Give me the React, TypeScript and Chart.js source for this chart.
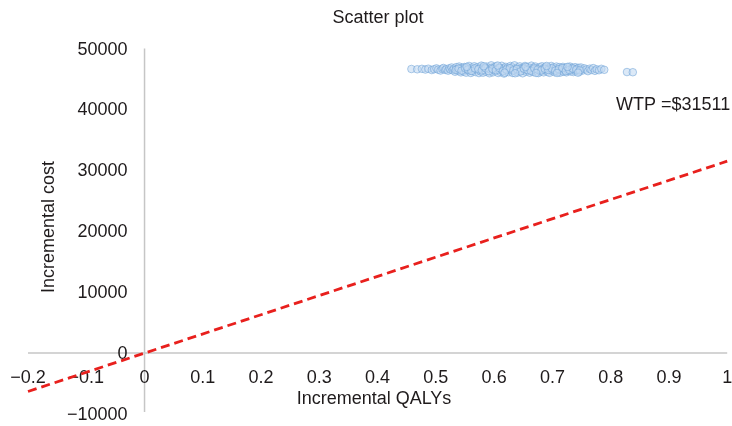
import React, { useEffect, useRef } from "react";
import { Chart, registerables } from "chart.js";

Chart.register(...registerables);

// ---- Data ----
const incQaly: number[] = [
  0.458, 0.468, 0.476, 0.482, 0.487, 0.493, 0.497, 0.501, 0.504, 0.508, 0.511, 0.513, 0.516, 0.518, 0.521, 0.523, 0.525, 0.527, 0.529, 0.531,
  0.533, 0.535, 0.536, 0.538, 0.540, 0.541, 0.543, 0.545, 0.546, 0.548, 0.549, 0.551, 0.552, 0.554, 0.556, 0.557, 0.559, 0.560, 0.562, 0.563,
  0.565, 0.566, 0.568, 0.569, 0.571, 0.572, 0.574, 0.575, 0.577, 0.578, 0.580, 0.581, 0.583, 0.584, 0.586, 0.587, 0.589, 0.590, 0.592, 0.593,
  0.595, 0.596, 0.598, 0.599, 0.601, 0.602, 0.604, 0.605, 0.607, 0.608, 0.610, 0.611, 0.613, 0.614, 0.616, 0.617, 0.619, 0.620, 0.622, 0.623,
  0.625, 0.626, 0.628, 0.629, 0.631, 0.632, 0.634, 0.635, 0.637, 0.638, 0.640, 0.641, 0.643, 0.644, 0.646, 0.647, 0.649, 0.650, 0.652, 0.653,
  0.655, 0.656, 0.658, 0.659, 0.661, 0.662, 0.664, 0.665, 0.667, 0.668, 0.670, 0.671, 0.673, 0.674, 0.676, 0.677, 0.679, 0.680, 0.682, 0.683,
  0.685, 0.686, 0.688, 0.689, 0.691, 0.692, 0.694, 0.695, 0.697, 0.698, 0.700, 0.701, 0.703, 0.704, 0.706, 0.707, 0.709, 0.710, 0.712, 0.713,
  0.715, 0.716, 0.718, 0.719, 0.721, 0.722, 0.724, 0.725, 0.727, 0.728, 0.730, 0.731, 0.733, 0.734, 0.736, 0.737, 0.739, 0.740, 0.742, 0.743,
  0.745, 0.746, 0.748, 0.749,
  0.752, 0.755, 0.758, 0.761, 0.764, 0.767, 0.770, 0.773, 0.776, 0.780, 0.784, 0.789,
  0.828, 0.838,
  0.534, 0.539, 0.544, 0.550, 0.555, 0.561, 0.567, 0.573, 0.579, 0.585, 0.591, 0.597, 0.603, 0.609, 0.615, 0.621, 0.627, 0.633, 0.639, 0.645,
  0.651, 0.657, 0.663, 0.669, 0.675, 0.681, 0.687, 0.693, 0.699, 0.705, 0.711, 0.717, 0.723, 0.729, 0.735, 0.741, 0.747,
  0.553, 0.582, 0.606, 0.618, 0.636, 0.654, 0.672, 0.690, 0.708, 0.726, 0.744,
];

const incCost: number[] = [
  46650, 46600, 46680, 46560, 46700, 46480, 46620, 46750, 46540, 46400, 46680, 46820, 46500, 46620, 46380, 46760, 46560, 46900, 46450, 46680,
  46200, 46950, 46600, 46350, 47050, 46700, 46100, 46850, 46450, 46250, 46980, 46620, 46050, 46780, 46380, 47150, 46520, 46000, 46880, 46300,
  46700, 47100, 46150, 46580, 46950, 46420, 45980, 46800, 46250, 47200, 46650, 46050, 46900, 46480, 46200, 47050, 46750, 46350, 45950, 46600,
  47250, 46850, 46100, 46500, 46950, 46300, 47100, 46700, 46000, 46550, 46880, 46180, 47180, 46420, 46780, 45900, 46650, 47000, 46300, 46850,
  46120, 46550, 47150, 46400, 46950, 46000, 46700, 47250, 46250, 46600, 46900, 46080, 46480, 47080, 46750, 46320, 45950, 46850, 46550, 47150,
  46200, 46680, 46980, 46400, 46050, 46800, 47200, 46500, 46150, 46900, 46600, 47050, 46300, 46750, 45980, 46450, 46950, 46250, 47100, 46650,
  46100, 46850, 46400, 47000, 46550, 46200, 46800, 46020, 46650, 47150, 46350, 46900, 46500, 46120, 46750, 47050, 46280, 46600, 46950, 46050,
  46700, 46420, 47000, 46200, 46800, 46550, 46100, 46900, 46350, 46700, 47050, 46250, 46600, 46850, 46150, 46500, 46950, 46300, 46700, 46450,
  46850, 46200, 46600, 46900,
  46400, 46750, 46550, 46300, 46700, 46500, 46800, 46350, 46600, 46450, 46680, 46520,
  46150, 46120,
  46500, 46720, 46380, 46820, 46560, 46330, 46760, 46620, 46420, 46780, 46280, 46680, 46450, 46820, 46300, 46560, 46780, 46420, 46650, 46250,
  46720, 46480, 46350, 46750, 46560, 46420, 46680, 46500, 46750, 46380, 46620, 46800, 46300, 46500, 46720, 46550, 46420,
  47000, 47100, 47220, 46050, 45950, 47000, 46000, 47150, 46000, 47000, 46050,
];

const wtpLineX: number[] = [-0.2, 1];
const wtpLineY: number[] = [-6302, 31511];
const wtpLabel = "WTP =$31511";

const xTickValues: number[] = [-0.2, -0.1, 0, 0.1, 0.2, 0.3, 0.4, 0.5, 0.6, 0.7, 0.8, 0.9, 1];
const xTickLabels: string[] = ["\u22120.2", "\u22120.1", "0", "0.1", "0.2", "0.3", "0.4", "0.5", "0.6", "0.7", "0.8", "0.9", "1"];
const yTickValues: number[] = [50000, 40000, 30000, 20000, 10000, 0, -10000];
const yTickLabels: string[] = ["50000", "40000", "30000", "20000", "10000", "0", "\u221210000"];

const chartTitle = "Scatter plot";
const xTitle = "Incremental QALYs";
const yTitle = "Incremental cost";

const FONT = "'Liberation Sans', Arial, Helvetica, sans-serif";
const TEXT = "#1f1b1c";
const FS = 18;

const overlayPlugin = {
  id: "overlay",
  beforeDatasetsDraw(chart: any) {
    const { ctx, chartArea: a, scales } = chart;
    const xs = scales.x;
    const ys = scales.y;
    const x0 = xs.getPixelForValue(0);
    const y0 = ys.getPixelForValue(0);
    ctx.save();
    ctx.strokeStyle = "#c6c6c6";
    ctx.lineWidth = 1.5;
    ctx.beginPath();
    ctx.moveTo(a.left, y0);
    ctx.lineTo(a.right, y0);
    ctx.moveTo(x0, a.top);
    ctx.lineTo(x0, a.bottom - 2);
    ctx.stroke();

    ctx.fillStyle = TEXT;
    ctx.font = `${FS}px ${FONT}`;
    ctx.textBaseline = "middle";
    ctx.textAlign = "center";
    xTickValues.forEach((v, i) => {
      ctx.fillText(xTickLabels[i], xs.getPixelForValue(v), y0 + 25);
    });
    ctx.textAlign = "right";
    yTickValues.forEach((v, i) => {
      ctx.fillText(yTickLabels[i], x0 - 17, ys.getPixelForValue(v) + 1);
    });

    // axis titles
    ctx.textAlign = "center";
    ctx.fillText(xTitle, 374, y0 + 46);
    ctx.save();
    ctx.translate(49, 227);
    ctx.rotate(-Math.PI / 2);
    ctx.fillText(yTitle, 0, 0);
    ctx.restore();

    // WTP label
    ctx.textAlign = "left";
    ctx.fillText(wtpLabel, 616, ys.getPixelForValue(40700));
    ctx.restore();
  },
};

export default function App() {
  const ref = useRef<HTMLCanvasElement | null>(null);
  useEffect(() => {
    document.body.style.margin = "0";
    if (!ref.current) return;
    const scatterData = incQaly.map((x, i) => ({ x, y: incCost[i] }));
    const lineData = wtpLineX.map((x, i) => ({ x, y: wtpLineY[i] }));
    const chart = new Chart(ref.current, {
      type: "scatter",
      data: {
        datasets: [
          {
            type: "line",
            label: "WTP",
            data: lineData,
            borderColor: "#e8201d",
            borderWidth: 2.8,
            borderDash: [9, 5],
            pointRadius: 0,
            fill: false,
            clip: false as any,
            order: 1,
          } as any,
          {
            label: "Simulations",
            data: scatterData,
            pointRadius: 3.8,
            pointHoverRadius: 3.8,
            backgroundColor: "rgba(196,219,242,0.6)",
            borderColor: "rgba(100,155,212,0.5)",
            borderWidth: 1,
            order: 2,
          },
        ],
      },
      options: {
        animation: false,
        responsive: false,
        events: [],
        layout: { padding: { left: 28, right: 4, bottom: 12, top: 0 } },
        scales: {
          x: { type: "linear", min: -0.2, max: 1, display: false },
          y: { type: "linear", min: -10000, max: 50000, display: false },
        },
        plugins: {
          legend: { display: false },
          tooltip: { enabled: false },
          title: {
            display: true,
            text: chartTitle,
            color: TEXT,
            font: { family: FONT, size: FS, weight: "normal" as any, lineHeight: 1.2 },
            padding: { top: 7, bottom: 20 },
          },
        },
      },
      plugins: [overlayPlugin],
    });
    return () => chart.destroy();
  }, []);
  return (
    <div style={{ width: 732, height: 426 }}>
      <canvas ref={ref} width={732} height={426} />
    </div>
  );
}
